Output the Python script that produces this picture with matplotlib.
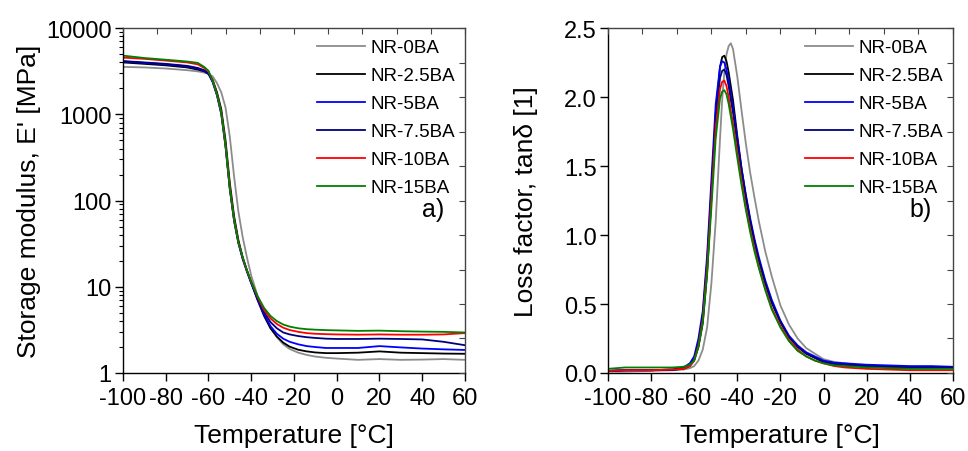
import numpy as np
import matplotlib
matplotlib.use("Agg")
import matplotlib.pyplot as plt

plt.rcParams['font.family'] = ['Liberation Sans', 'DejaVu Sans']

# ---------- data ----------
names = ["NR-0BA", "NR-2.5BA", "NR-5BA", "NR-7.5BA", "NR-10BA", "NR-15BA"]
colors = ["#8c8c8c", "#000000", "#0000ff", "#00007f", "#ff0000", "#008000"]

# storage modulus E' [MPa]
temp_e = [-100, -90, -80, -70, -65, -62, -60, -58, -56, -54, -52, -50, -48, -46, -44, -42,
          -40, -37, -34, -31, -28, -25, -22, -18, -14, -10, -5, 0, 10, 20, 30, 40, 50, 60]
e_0ba = [3550, 3500, 3400, 3250, 3150, 3050, 2950, 2750, 2300, 1800, 1200, 550, 190, 75, 38, 22,
         13.5, 7.8, 4.9, 3.4, 2.6, 2.15, 1.9, 1.72, 1.62, 1.55, 1.5, 1.47, 1.42, 1.45, 1.42, 1.43, 1.45, 1.42]
e_25ba = [4000, 3850, 3700, 3500, 3300, 3150, 2950, 2500, 1800, 1150, 500, 160, 66, 35, 22, 15.5,
          11.2, 7.0, 4.6, 3.3, 2.65, 2.25, 2.02, 1.86, 1.78, 1.73, 1.7, 1.7, 1.72, 1.78, 1.72, 1.7, 1.68, 1.67]
e_5ba = [4100, 3950, 3800, 3600, 3400, 3200, 2950, 2350, 1650, 1000, 420, 135, 58, 32, 21, 15,
         11.0, 7.1, 4.8, 3.5, 2.85, 2.5, 2.3, 2.15, 2.05, 2.0, 1.95, 1.95, 1.95, 2.05, 1.98, 1.92, 1.88, 1.85]
e_75ba = [4150, 4000, 3850, 3650, 3450, 3250, 3000, 2400, 1700, 1050, 440, 140, 60, 33, 21.5, 15.3,
          11.2, 7.3, 5.1, 3.9, 3.3, 2.95, 2.8, 2.68, 2.6, 2.55, 2.5, 2.48, 2.48, 2.5, 2.48, 2.45, 2.3, 2.1]
e_10ba = [4550, 4400, 4200, 4000, 3800, 3450, 3150, 2450, 1700, 1050, 440, 140, 60, 33, 22, 15.5,
          11.4, 7.6, 5.4, 4.3, 3.7, 3.35, 3.15, 3.0, 2.9, 2.85, 2.82, 2.8, 2.78, 2.8, 2.78, 2.78, 2.8, 2.9]
e_15ba = [4800, 4500, 4300, 4100, 3950, 3550, 3200, 2450, 1700, 1050, 440, 140, 60, 33, 22, 15.5,
          11.5, 7.8, 5.7, 4.6, 4.0, 3.65, 3.45, 3.3, 3.22, 3.18, 3.14, 3.12, 3.08, 3.1, 3.05, 3.02, 3.0, 2.95]

# loss factor tan delta
temp_t = [-100, -92, -80, -70, -65, -62, -60, -58, -56, -54, -52, -50, -48, -47, -46, -45, -44, -43,
          -42, -40, -38, -36, -34, -32, -30, -27, -24, -20, -16, -12, -8, -4, 0, 5, 10, 20, 30, 40, 50, 60]
t_0ba = [0.01, 0.01, 0.015, 0.02, 0.025, 0.035, 0.05, 0.09, 0.17, 0.33, 0.65, 1.1, 1.7, 1.98, 2.18, 2.31, 2.37, 2.39,
         2.35, 2.15, 1.9, 1.66, 1.45, 1.27, 1.1, 0.88, 0.7, 0.49, 0.35, 0.25, 0.18, 0.14, 0.1, 0.08, 0.07, 0.05, 0.04, 0.04, 0.04, 0.035]
t_25ba = [0.015, 0.02, 0.02, 0.022, 0.03, 0.05, 0.09, 0.19, 0.36, 0.72, 1.28, 1.88, 2.22, 2.29, 2.3, 2.26, 2.18, 2.08,
          1.98, 1.72, 1.48, 1.28, 1.1, 0.95, 0.82, 0.65, 0.51, 0.37, 0.26, 0.19, 0.14, 0.11, 0.08, 0.065, 0.06, 0.05, 0.045, 0.04, 0.04, 0.04]
t_5ba = [0.015, 0.02, 0.02, 0.025, 0.04, 0.07, 0.12, 0.25, 0.45, 0.85, 1.4, 1.95, 2.22, 2.26, 2.25, 2.2, 2.12, 2.02,
         1.93, 1.7, 1.48, 1.29, 1.12, 0.97, 0.84, 0.67, 0.53, 0.38, 0.27, 0.2, 0.15, 0.12, 0.09, 0.075, 0.07, 0.06, 0.055, 0.05, 0.05, 0.045]
t_75ba = [0.015, 0.02, 0.02, 0.025, 0.035, 0.06, 0.1, 0.22, 0.42, 0.8, 1.33, 1.85, 2.14, 2.19, 2.2, 2.16, 2.08, 1.98,
          1.89, 1.67, 1.46, 1.27, 1.1, 0.95, 0.82, 0.65, 0.51, 0.37, 0.26, 0.19, 0.14, 0.11, 0.08, 0.065, 0.06, 0.05, 0.045, 0.04, 0.04, 0.04]
t_10ba = [0.015, 0.02, 0.02, 0.025, 0.03, 0.05, 0.09, 0.2, 0.39, 0.76, 1.27, 1.78, 2.06, 2.11, 2.12, 2.08, 2.0, 1.9,
          1.81, 1.6, 1.39, 1.2, 1.04, 0.9, 0.77, 0.61, 0.47, 0.34, 0.24, 0.17, 0.12, 0.09, 0.07, 0.05, 0.04, 0.03, 0.025, 0.02, 0.02, 0.02]
t_15ba = [0.03, 0.04, 0.04, 0.04, 0.045, 0.06, 0.09, 0.19, 0.37, 0.72, 1.2, 1.7, 1.99, 2.04, 2.05, 2.02, 1.95, 1.86,
          1.77, 1.56, 1.36, 1.18, 1.02, 0.88, 0.76, 0.6, 0.46, 0.33, 0.23, 0.16, 0.12, 0.09, 0.07, 0.055, 0.05, 0.04, 0.035, 0.03, 0.03, 0.03]

modulus = [e_0ba, e_25ba, e_5ba, e_75ba, e_10ba, e_15ba]
tandelta = [t_0ba, t_25ba, t_5ba, t_75ba, t_10ba, t_15ba]
x_ticks = [-100, -80, -60, -40, -20, 0, 20, 40, 60]

TICK = 17
LAB = 19

fig = plt.figure(figsize=(9.68, 4.52), dpi=100)


def frame_ticks(rect):
    # 10 evenly spaced inner ticks on top and right, like the original plot
    over = fig.add_axes(rect, frameon=False)
    over.set_xlim(0, 10)
    over.set_ylim(0, 10)
    over.set_xticks(range(11))
    over.set_yticks(range(11))
    over.tick_params(top=True, right=True, bottom=False, left=False,
                     labeltop=False, labelright=False, labelbottom=False, labelleft=False,
                     direction="in", length=4, width=0.8, color="#444444")
    over.patch.set_visible(False)


def style(ax):
    for s in ax.spines.values():
        s.set_linewidth(1.0)
    ax.spines["top"].set_color("#444444")
    ax.spines["right"].set_color("#444444")
    ax.set_xlim(-100, 60)
    ax.set_xticks(x_ticks)
    ax.set_xticklabels([str(v) for v in x_ticks])
    ax.tick_params(axis="both", which="major", direction="out", length=6, width=1.0,
                   labelsize=TICK, pad=2, top=False, right=False)
    ax.tick_params(axis="x", pad=4)
    ax.set_xlabel("Temperature [°C]", fontsize=LAB, labelpad=10)
    ax.legend(loc="upper right", frameon=False, fontsize=13.5, handlelength=2.6,
              handletextpad=0.3, labelspacing=0.58, borderaxespad=0.1,
              bbox_to_anchor=(1.0, 0.995))


# ---------- a) storage modulus ----------
rect_a = [0.127, 0.1726, 0.3533, 0.763]
ax1 = fig.add_axes(rect_a)
for vals, name, c in zip(modulus, names, colors):
    ax1.plot(temp_e, vals, color=c, lw=1.3, label=name)
ax1.set_yscale("log")
ax1.set_ylim(1, 10000)
ax1.set_yticks([1, 10, 100, 1000, 10000])
ax1.set_yticklabels(["1", "10", "100", "1000", "10000"])
ax1.tick_params(axis="y", which="minor", direction="out", length=3, width=0.8, right=False)
ax1.set_ylabel("Storage modulus, E' [MPa]", fontsize=LAB, labelpad=4)
style(ax1)
ax1.text(0.94, 0.475, "a)", transform=ax1.transAxes, fontsize=18, ha="right", va="center")
frame_ticks(rect_a)

# ---------- b) loss factor ----------
rect_b = [0.628, 0.1726, 0.3564, 0.763]
ax2 = fig.add_axes(rect_b)
for vals, name, c in zip(tandelta, names, colors):
    ax2.plot(temp_t, vals, color=c, lw=1.3, label=name)
ax2.set_ylim(0, 2.5)
ax2.set_yticks([0.0, 0.5, 1.0, 1.5, 2.0, 2.5])
ax2.set_yticklabels(["0.0", "0.5", "1.0", "1.5", "2.0", "2.5"])
ax2.set_ylabel("Loss factor, tanδ [1]", fontsize=LAB, labelpad=19)
style(ax2)
ax2.text(0.94, 0.475, "b)", transform=ax2.transAxes, fontsize=18, ha="right", va="center")
frame_ticks(rect_b)

plt.savefig("out.png", dpi=100)
plt.close()
